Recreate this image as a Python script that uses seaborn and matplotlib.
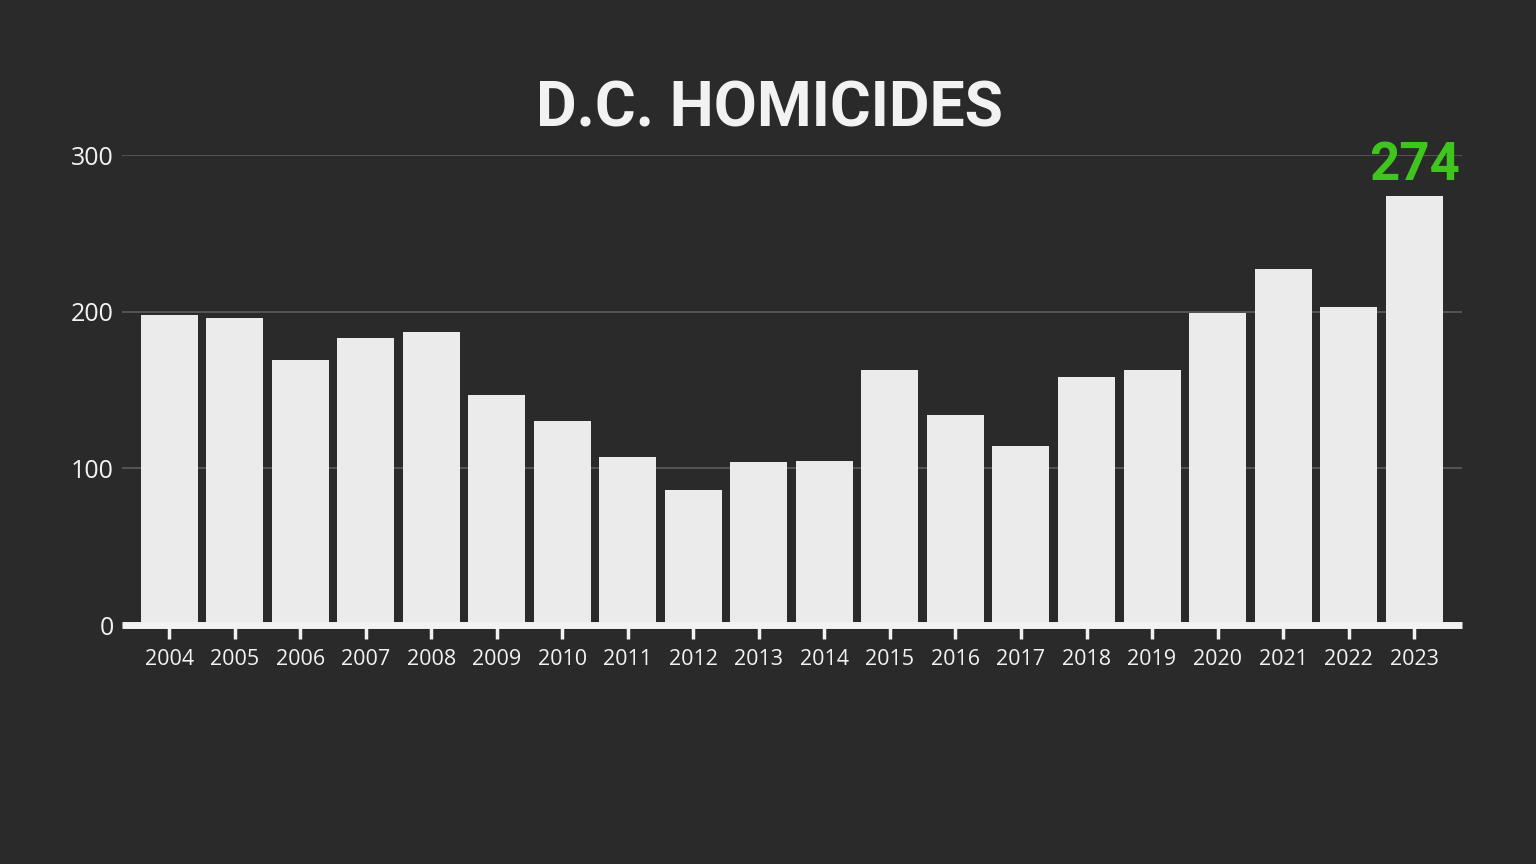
import matplotlib
matplotlib.use("Agg")
import matplotlib.pyplot as plt
import seaborn as sns
import pandas as pd

years = [str(y) for y in range(2004, 2024)]
homicides = [198, 196, 169, 183, 187, 147, 130, 107, 86, 104,
             105, 163, 134, 114, 158, 163, 199, 227, 203, 274]
y_ticks = [0, 100, 200, 300]

BG = "#2a2a2a"
BAR = "#ebebeb"
GREEN = "#3ec51e"

sns.set_style("dark")
plt.rcParams["font.family"] = ["Open Sans", "DejaVu Sans"]

df = pd.DataFrame({"year": years, "count": homicides})

fig = plt.figure(figsize=(15.36, 8.64), dpi=100, facecolor=BG)
ax = fig.add_axes([0.0794, 0.2766, 0.8724, 0.544])
ax.set_facecolor(BG)

sns.barplot(data=df, x="year", y="count", color=BAR, width=0.87,
            saturation=1, linewidth=0, ax=ax, zorder=2)

ax.set_xlim(-0.72, 19.73)
ax.set_ylim(0, 300)
ax.set_yticks(y_ticks)
ax.grid(axis="y", color="#5c5c5c", linewidth=1.2, zorder=0)
ax.grid(axis="x", visible=False)

for side in ["top", "right", "left"]:
    ax.spines[side].set_visible(False)
ax.spines["bottom"].set_color("#f2f2f2")
ax.spines["bottom"].set_linewidth(5)
ax.spines["bottom"].set_capstyle("butt")
ax.spines["bottom"].set_zorder(3)

ax.tick_params(axis="x", bottom=True, colors="#f2f2f2", direction="out",
               length=10, width=2.5, labelsize=15.5, pad=7)
ax.tick_params(axis="y", left=False, colors="#f2f2f2", length=0,
               labelsize=18, pad=6)
ax.set_xlabel("")
ax.set_ylabel("")

# highlight the latest year
last = len(homicides) - 1
ax.text(last, homicides[last] + 3, str(homicides[last]), color=GREEN,
        ha="center", va="bottom", fontsize=38, fontweight="bold",
        family=["Roboto", "DejaVu Sans"], clip_on=False)

fig.text(0.501, 0.873, "D.C. HOMICIDES", color="#f2f2f2", ha="center",
         va="center", fontsize=45, fontweight="bold",
         family=["Roboto", "DejaVu Sans"])

fig.savefig("out.png", dpi=100, facecolor=BG)
plt.close(fig)
